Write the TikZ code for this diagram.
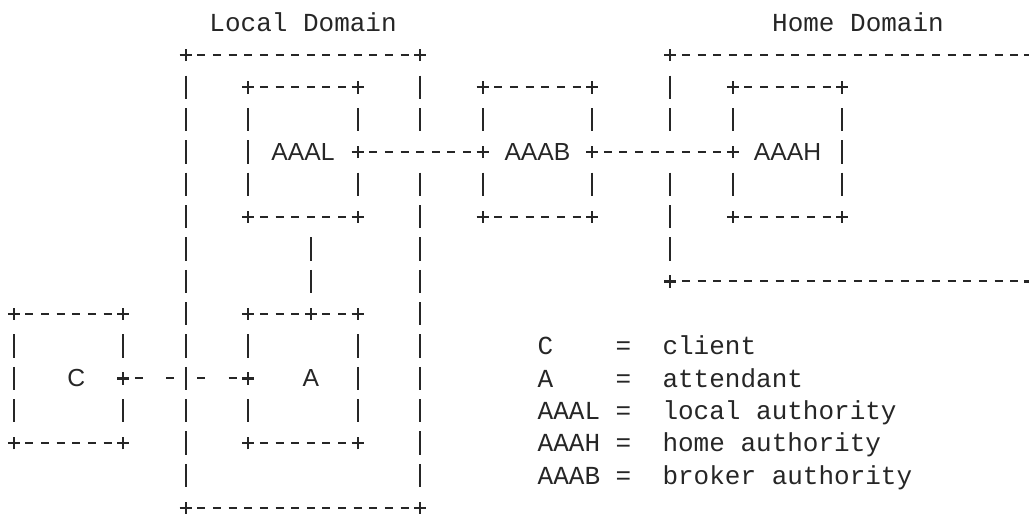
\documentclass[tikz,border=0pt]{standalone}
\usepackage{fontspec}
\setmainfont{Liberation Mono}
\newfontfamily\boxfont{Liberation Sans}
\usepackage{tikz}
\definecolor{ink}{HTML}{262626}

% one character cell of the ascii grid
\newlength{\colw}\setlength{\colw}{11.72pt}
\newlength{\rowh}\setlength{\rowh}{24.25pt}

\tikzset{
  plus/.pic={\draw[ink, line width=1.6pt] (-4.5pt,0) -- (4.5pt,0) (0,-4.6pt) -- (0,4.6pt);}
}

% top and bottom rule of a frame, with its four corners
\newcommand{\rules}[1]{%
  \draw[hbar] (#1.north west) -- (#1.north east);
  \draw[hbar] (#1.south west) -- (#1.south east);
  \foreach \cn in {north west,north east,south west,south east}
    \pic at (#1.\cn) {plus};
}

\begin{document}
\begin{tikzpicture}[x=\colw, y=-\rowh,
  hbar/.style={draw=ink, line width=1.5pt, dash pattern=on 6pt off 5.72pt, dash phase=3pt},
  vbar/.style={draw=ink, line width=1.5pt, dash pattern=on 17.5pt off 6.75pt,
               shorten <=15.5pt, shorten >=15.5pt},
  gap/.style ={draw=ink, line width=1.5pt, dash pattern=on 6pt off 17.44pt, dash phase=14.72pt},
  frame/.style 2 args={inner sep=0pt, outer sep=0pt, minimum width=#1\colw,
                       minimum height=#2\rowh, text=ink, font=\boxfont\fontsize{18.5}{22}\selectfont},
  txt/.style={inner sep=0pt, anchor=base west, yshift=-6.4pt, text=ink,
              font=\fontsize{19.5}{24}\selectfont}
]
\useasboundingbox (-0.883,-0.702) rectangle (64.95,15.23);
\clip (-0.883,-0.702) rectangle (64.95,15.23);

% domains
\node[frame={15}{14}] (ld) at (18.5,8) {};
\node[frame={23}{7}]  (hd) at (53.5,4.5) {};
\node[txt] (ld-name) at (12.5,0) {Local Domain};
\node[txt] (hd-name) at (48.5,0) {Home Domain};

% boxes
\node[frame={7}{4}] (aaal) at (18.5,4)  {AAAL};
\node[frame={7}{4}] (aaab) at (33.5,4)  {AAAB};
\node[frame={7}{4}] (aaah) at (49.5,4)  {AAAH};
\node[frame={7}{4}] (c)    at (3.5,11)  {\hspace*{\colw}C};
\node[frame={7}{4}] (a)    at (18.5,11) {\hspace*{\colw}A};

\coordinate (ld-x)   at (ld.north east |- aaal.east);
\coordinate (hd-x)   at (hd.north west |- aaab.east);
\coordinate (aaal-s) at ([xshift=.5\colw]aaal.south);
\coordinate (a-n)    at ([xshift=.5\colw]a.north);

\foreach \bx in {ld,hd,aaal,aaab,aaah,c,a} {\rules{\bx}}

% side walls, broken where a line meets them
\foreach \p/\q in {ld.north west/ld.south west, ld.north east/ld-x, ld-x/ld.south east,
                   hd.north west/hd-x, hd-x/hd.south west, hd.north east/hd.south east,
                   aaal.north west/aaal.south west, aaal.north east/aaal.east, aaal.east/aaal.south east,
                   aaab.north west/aaab.west, aaab.west/aaab.south west,
                   aaab.north east/aaab.east, aaab.east/aaab.south east,
                   aaah.north west/aaah.west, aaah.west/aaah.south west, aaah.north east/aaah.south east,
                   c.north west/c.south west, c.north east/c.east, c.east/c.south east,
                   a.north west/a.west, a.west/a.south west, a.north east/a.south east}
  \draw[vbar] (\p) -- (\q);

\foreach \j in {aaal.east, aaab.west, aaab.east, aaah.west, c.east, a.west, a-n}
  \pic at (\j) {plus};

% links
\draw[hbar] (aaal.east) -- (aaab.west);
\draw[hbar] (aaab.east) -- (aaah.west);
\draw[vbar] (aaal-s) -- (a-n);
\draw[gap]  (c.east) -- (a.west);

% key
\foreach \r/\entry in {10/{C~~~~=~~client}, 11/{A~~~~=~~attendant},
                       12/{AAAL~=~~local authority}, 13/{AAAH~=~~home authority},
                       14/{AAAB~=~~broker authority}}
  \node[txt] (key-\r) at (33.5,\r) {\entry};
\end{tikzpicture}
\end{document}
